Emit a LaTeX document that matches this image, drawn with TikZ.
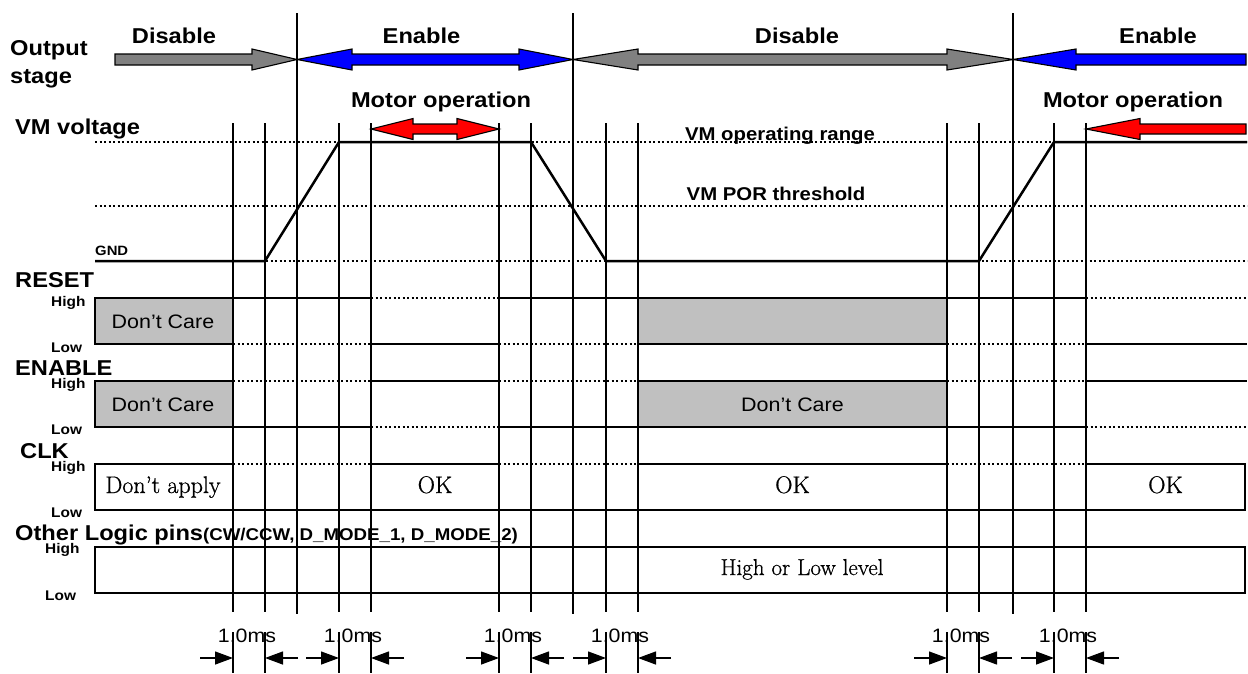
\documentclass[tikz,border=0pt]{standalone}
\usepackage{fontspec}
\newfontfamily\sansf[FakeStretch=1.1]{Liberation Sans}
\newfontfamily\serf[FakeBold=0.8]{Latin Modern Roman}
\usetikzlibrary{arrows.meta}
\definecolor{boxgray}{HTML}{C0C0C0}
\definecolor{arrgray}{HTML}{808080}
\definecolor{arrblue}{HTML}{0000FF}
\definecolor{arrred}{HTML}{FF0000}
\newcommand\myfs[1]{\fontsize{#1}{#1}\selectfont}
\begin{document}
\begin{tikzpicture}[x=1pt,y=-1pt,
  vln/.style={line width=1.2pt},
  sigln/.style={line width=2.8pt},
  vmln/.style={line width=2.5pt},
  dotln/.style={line width=2pt, dash pattern=on 2pt off 2.5pt},
  bigl/.style={font=\sansf\bfseries\myfs{21.5}, inner sep=0pt, anchor=base west},
  lvl/.style={font=\sansf\bfseries\myfs{14}, inner sep=0pt, anchor=base west},
  hdr/.style={font=\sansf\bfseries\myfs{21.5}, inner sep=0pt, anchor=base},
  rng/.style={font=\sansf\bfseries\myfs{18.5}, inner sep=0pt, anchor=base},
  boxtxt/.style={font=\sansf\myfs{19.5}, inner sep=0pt, anchor=base},
  sertxt/.style={font=\serf\myfs{24}, inner sep=0pt, anchor=base},
  mstxt/.style={font=\sansf\myfs{19.4}, inner sep=0pt, anchor=base},
  blkarr/.style={draw=black, line width=1.1pt},
  grybox/.style={draw=black, line width=2.8pt, fill=boxgray},
  wbox/.style={draw=black, line width=2.8pt},
  dimarr/.style={-{Triangle[length=18pt,width=13pt]}, line width=1.3pt},
  dimtk/.style={line width=2.3pt}]
\useasboundingbox (0,0) rectangle (1248,673);

% vertical time lines
\foreach \x in {233,265,339,371,499,531,606,638,947,979,1054,1086}
  \draw[vln] (\x,123) -- (\x,612);
\foreach \x in {297,573,1013}
  \draw[vln] (\x,13) -- (\x,614);

% Output stage block arrows
\draw[blkarr, fill=arrgray] (115,54) -- (252,54) -- (252,49) -- (297,59.5) -- (252,70) -- (252,65) -- (115,65) -- cycle;
\draw[blkarr, fill=arrblue] (297,59.5) -- (352,49) -- (352,54) -- (519,54) -- (519,49) -- (573,59.5) -- (519,70) -- (519,65) -- (352,65) -- (352,70) -- cycle;
\draw[blkarr, fill=arrgray] (573,59.5) -- (638,49) -- (638,54) -- (947,54) -- (947,49) -- (1013,59.5) -- (947,70) -- (947,65) -- (638,65) -- (638,70) -- cycle;
\draw[blkarr, fill=arrblue] (1013,59.5) -- (1076,49) -- (1076,54) -- (1246,54) -- (1246,65) -- (1076,65) -- (1076,70) -- cycle;

% Motor operation arrows
\draw[blkarr, fill=arrred] (371,129) -- (413,118.5) -- (413,124) -- (457,124) -- (457,118.5) -- (499,129) -- (457,139.5) -- (457,134) -- (413,134) -- (413,139.5) -- cycle;
\draw[blkarr, fill=arrred] (1086,129) -- (1140,118.5) -- (1140,124) -- (1246,124) -- (1246,134) -- (1140,134) -- (1140,139.5) -- cycle;

% headers
\node[bigl] (out1) at (10,55) {Output};
\node[bigl] (out2) at (10,83) {stage};
\node[hdr] (h1) at (174,43) {Disable};
\node[hdr] (h2) at (421.5,43) {Enable};
\node[hdr] (h3) at (797,43) {Disable};
\node[hdr] (h4) at (1158,43) {Enable};
\node[hdr] (mo1) at (441,107) {Motor operation};
\node[hdr] (mo2) at (1133,107) {Motor operation};

% VM voltage
\foreach \y in {142,206,261}
  \draw[dotln] (95,\y) -- (1247,\y);
\draw[vmln] (95,261) -- (265,261) -- (339,142) -- (531,142) -- (606,261) -- (979,261) -- (1054,142) -- (1247,142);
\node[bigl] (vm) at (15,134) {VM voltage};
\node[font=\sansf\bfseries\myfs{13.5}, inner sep=0pt, anchor=base west] (gnd) at (95,255) {GND};
\node[rng] (rng1) at (780,140) {VM operating range};
\node[rng] (rng2) at (776,200) {VM POR threshold};

% RESET  (H=298, L=344)
\node[bigl] (rst) at (15,287) {RESET};
\node[lvl] (rsth) at (51,306) {High};
\node[lvl] (rstl) at (51,352) {Low};
\draw[dotln] (233,344) -- (371,344);
\draw[dotln] (371,298) -- (499,298);
\draw[dotln] (499,344) -- (638,344);
\draw[dotln] (947,344) -- (1086,344);
\draw[dotln] (1086,298) -- (1247,298);
\draw[sigln] (233,298) -- (371,298) -- (371,344) -- (499,344) -- (499,298) -- (638,298);
\draw[sigln] (947,298) -- (1086,298) -- (1086,344) -- (1247,344);
\draw[grybox] (95,298) rectangle (233,344);
\draw[grybox] (638,298) rectangle (947,344);
\node[boxtxt] (dc1) at (163,328) {Don’t Care};

% ENABLE (H=381, L=427)
\node[bigl] (ena) at (15,375) {ENABLE};
\node[lvl] (enah) at (51,388) {High};
\node[lvl] (enal) at (51,434) {Low};
\draw[dotln] (233,381) -- (371,381);
\draw[dotln] (371,427) -- (499,427);
\draw[dotln] (499,381) -- (638,381);
\draw[dotln] (947,381) -- (1086,381);
\draw[dotln] (1086,427) -- (1247,427);
\draw[sigln] (233,427) -- (371,427) -- (371,381) -- (499,381) -- (499,427) -- (638,427);
\draw[sigln] (947,427) -- (1086,427) -- (1086,381) -- (1247,381);
\draw[grybox] (95,381) rectangle (233,427);
\draw[grybox] (638,381) rectangle (947,427);
\node[boxtxt] (dc2) at (163,411) {Don’t Care};
\node[boxtxt] (dc3) at (792.5,411) {Don’t Care};

% CLK (H=464, L=510)
\node[bigl] (clk) at (20,458) {CLK};
\node[lvl] (clkh) at (51,471) {High};
\node[lvl] (clkl) at (51,517) {Low};
\draw[dotln] (233,464) -- (371,464);
\draw[dotln] (499,464) -- (638,464);
\draw[dotln] (947,464) -- (1086,464);
\draw[sigln] (233,510) -- (371,510);
\draw[sigln] (499,510) -- (638,510);
\draw[sigln] (947,510) -- (1086,510);
\draw[wbox] (95,464) rectangle (233,510);
\draw[wbox] (371,464) rectangle (499,510);
\draw[wbox] (638,464) rectangle (947,510);
\draw[wbox] (1086,464) rectangle (1245,510);
\node[sertxt] (da) at (163,493) {Don’t apply};
\node[sertxt] (ok1) at (435,493) {OK};
\node[sertxt] (ok2) at (792.5,493) {OK};
\node[sertxt] (ok3) at (1165.5,493) {OK};

% Other logic pins (H=547, L=593)
\node[bigl] (oth) at (15,540) {Other Logic pins{\myfs{17}(CW/CCW, D\_MODE\_1, D\_MODE\_2)}};
\node[lvl] (othh) at (45,553) {High};
\node[lvl] (othl) at (45,600) {Low};
\draw[wbox] (95,547) rectangle (1245,593);
\node[font=\serf\myfs{23}, inner sep=0pt, anchor=base] (hl) at (802,575) {High or Low level};

% 1.0 ms dimension marks
\foreach \a/\b in {233/265,339/371,499/531,606/638,947/979,1054/1086} {
  \draw[dimtk] (\a,632) -- (\a,673);
  \draw[dimtk] (\b,632) -- (\b,673);
  \draw[dimarr] (\a-33,658) -- (\a,658);
  \draw[dimarr] (\b+33,658) -- (\b,658);
  \node[mstxt] (ms\a) at ({(\a+\b)/2-2},642) {1.0ms};
}
\end{tikzpicture}
\end{document}
